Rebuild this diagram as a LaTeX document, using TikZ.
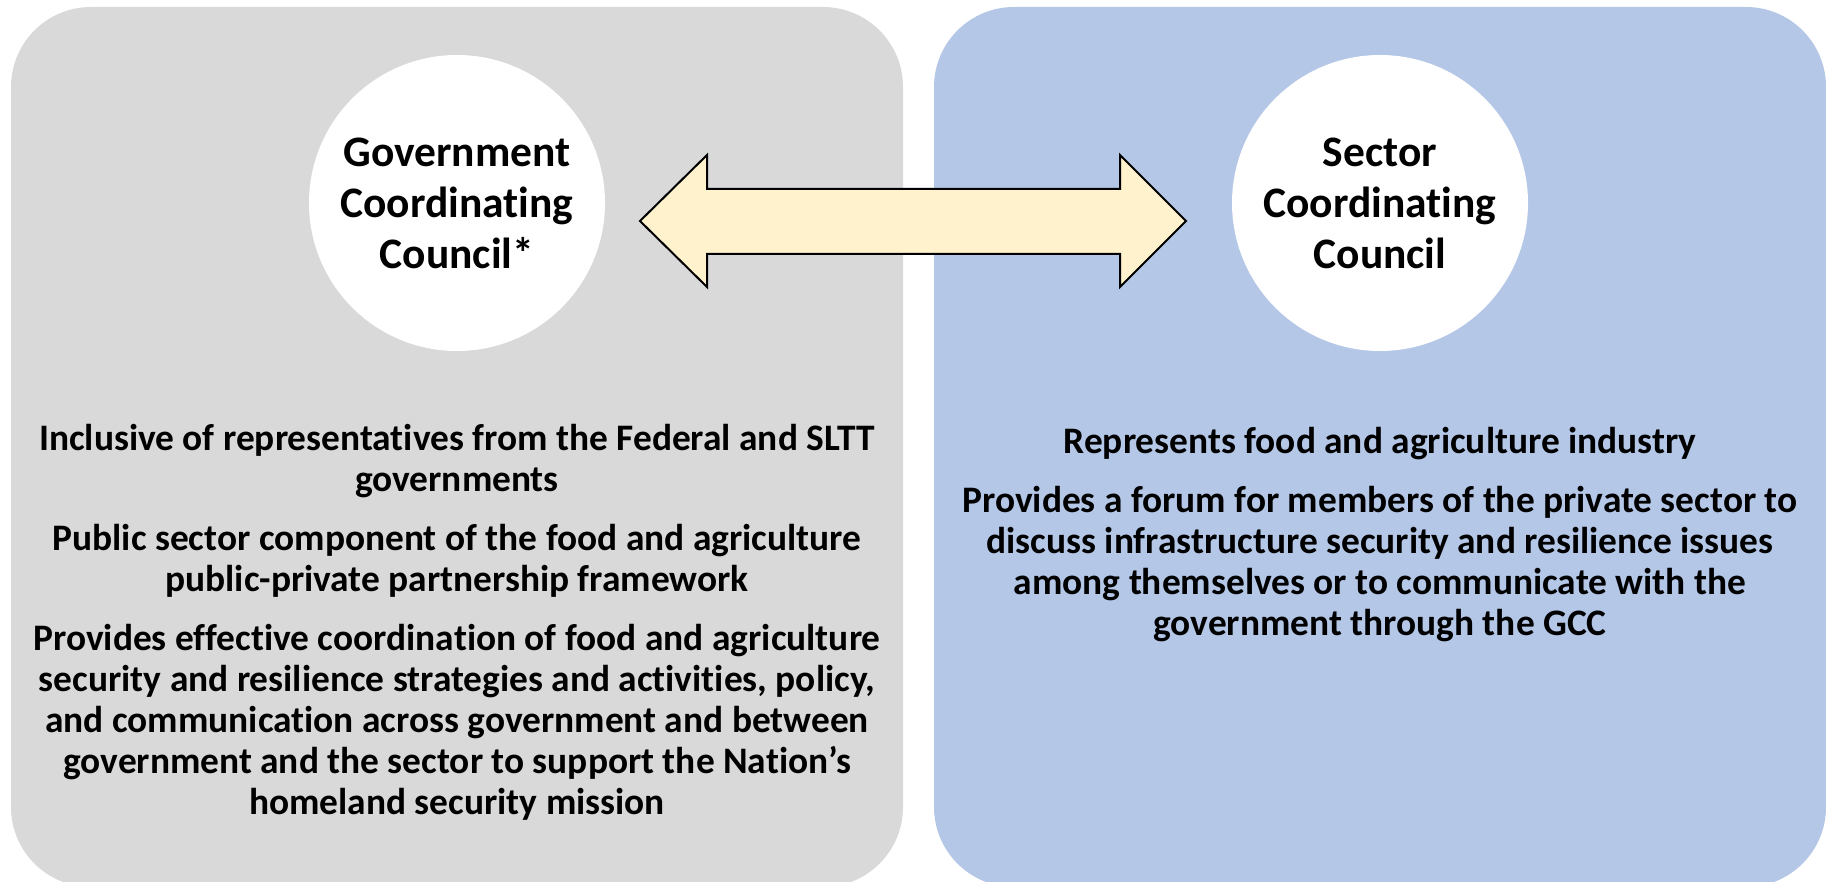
\documentclass[tikz,border=0pt]{standalone}
\usepackage{fontspec}
\setmainfont{Carlito}[Ligatures=NoCommon]
\definecolor{panelGray}{HTML}{D9D9D9}
\definecolor{panelBlue}{HTML}{B4C7E7}
\definecolor{arrowCream}{HTML}{FFF2CC}
\begin{document}
\begin{tikzpicture}
        [x=1pt, y=-1pt,
        panel/.style={rounded corners=80pt},
        council/.style={circle, fill=white, minimum size=296pt, inner sep=0pt, align=center, font=\fontsize{43.5}{51}\selectfont\bfseries},
        info/.style={anchor=north, inner sep=0pt, align=center, font=\fontsize{37.4}{41}\selectfont\bfseries},
        link/.style={draw=black, line width=2pt, fill=arrowCream, line join=miter}]
        \useasboundingbox (0,0) rectangle (1826,882);
        \clip (0,0) rectangle (1826,882);

        \fill[panel, panelGray] (11,7) rectangle (903,887);
        \fill[panel, panelBlue] (934,7) rectangle (1826,887);

        \node[council] (GCC) at (457,203) {Government\\Coordinating\\Council*};
        \node[council] (SCC) at (1380,203) {Sector\\Coordinating\\Council};

        % two-headed block arrow between the councils
        \draw[link] (640,221) -- (707,155) -- (707,189) -- (1120,189) -- (1120,155) -- (1186,221)
            -- (1120,287) -- (1120,254) -- (707,254) -- (707,287) -- cycle;

        \node[info] (GCCtext) at (457,424) {Inclusive of representatives from the Federal and SLTT~\\
            governments\\[18pt]
            Public sector component of the food and agriculture\\
            public-private partnership framework\\[18pt]
            Provides effective coordination of food and agriculture\\
            security and resilience strategies and activities, policy,\\
            and communication across government and between\\
            government and the sector to support the Nation’s\\
            homeland security mission};
        \node[info] (SCCtext) at (1380,427) {Represents food and agriculture industry\\[18pt]
            Provides a forum for members of the private sector to\\
            discuss infrastructure security and resilience issues\\
            among themselves or to communicate with the\\
            government through the GCC};

\end{tikzpicture}
\end{document}
